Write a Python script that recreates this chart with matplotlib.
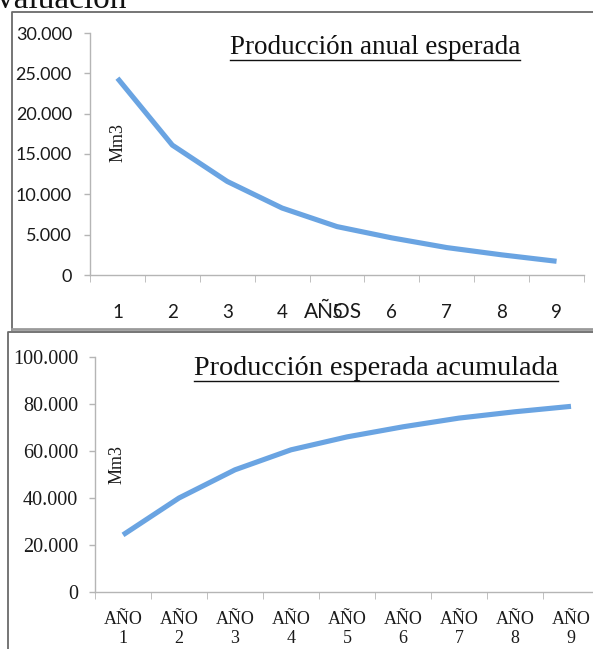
import matplotlib
matplotlib.use("Agg")
import matplotlib.pyplot as plt
from matplotlib.lines import Line2D

# Data: expected gas production per year (Mm3)
years = [1, 2, 3, 4, 5, 6, 7, 8, 9]
annual_production = [24400, 16100, 11600, 8300, 6000, 4600, 3400, 2500, 1700]
cumulative_production = [24300, 40000, 52000, 60500, 66000, 70300, 74000, 76700, 79000]

top_yticks = [0, 5000, 10000, 15000, 20000, 25000, 30000]
top_yticklabels = ["0", "5.000", "10.000", "15.000", "20.000", "25.000", "30.000"]
top_xticklabels = ["1", "2", "3", "4", "5", "6", "7", "8", "9"]
bottom_yticks = [0, 20000, 40000, 60000, 80000, 100000]
bottom_yticklabels = ["0", "20.000", "40.000", "60.000", "80.000", "100.000"]
bottom_xticklabels = [f"AÑO\n{y}" for y in years]

W, H = 593, 649
SERIF = "Liberation Serif"
SANS = "Lato"
LINE_COLOR = "#6aa4e2"
AXIS_COLOR = "#b5b5b5"
FRAME_COLOR = "#6a6a6a"
TEXT_COLOR = "#1a1a1a"

fig = plt.figure(figsize=(W / 100, H / 100), dpi=100)
fig.patch.set_facecolor("white")


def rect(x0, y0, x1, y1):
    """Axes rectangle from pixel edges (origin top-left)."""
    return [x0 / W, 1 - y1 / H, (x1 - x0) / W, (y1 - y0) / H]


def fig_line(xs, ys, **kw):
    fig.add_artist(Line2D([x / W for x in xs], [1 - y / H for y in ys],
                          transform=fig.transFigure, **kw))


def style_axes(ax):
    for side in ("top", "right"):
        ax.spines[side].set_visible(False)
    for side in ("left", "bottom"):
        ax.spines[side].set_color(AXIS_COLOR)
        ax.spines[side].set_linewidth(1.0)
    ax.tick_params(colors=AXIS_COLOR, length=4, width=1.0, labelcolor=TEXT_COLOR)
    ax.set_facecolor("none")


# Document heading, cut off at the top edge of the page
fig.text(-3 / W, 1 - 8 / H, "valuación", fontsize=24, family=SERIF,
         ha="left", va="baseline", color="#111111")

# Chart frames
fig_line([12, 12, 600], [330, 12, 12], color=FRAME_COLOR, lw=1.3)
fig_line([12, 600], [329, 329], color="#9a9a9a", lw=2.0)
fig_line([8, 8, 600], [660, 332, 332], color=FRAME_COLOR, lw=1.3)

# ---- Annual production ----
ax1 = fig.add_axes(rect(90, 33, 584, 275))
ax1.plot(years, annual_production, color=LINE_COLOR, lw=3.7, solid_capstyle="butt")
ax1.set_xlim(0.5, 9.5)
ax1.set_ylim(0, 30000)
ax1.set_yticks(top_yticks)
ax1.set_yticklabels(top_yticklabels, family=SANS, fontsize=13)
ax1.set_xticks(years)
ax1.set_xticklabels(top_xticklabels, family=SANS, fontsize=13.5)
ax1.set_xticks([x + 0.5 for x in [0] + years], minor=True)
style_axes(ax1)
ax1.tick_params(axis="x", which="major", length=0, pad=21)
ax1.tick_params(axis="x", which="minor", length=5, colors=AXIS_COLOR)
ax1.tick_params(axis="y", pad=9)
ax1.annotate("AÑOS", xy=(4.92, 0), xycoords="data", xytext=(0, -27),
             textcoords="offset points", ha="center", va="center",
             fontsize=15, family=SANS, color=TEXT_COLOR)
ax1.text((118 - 90) / 494, (275 - 142) / 242, "Mm3", transform=ax1.transAxes,
         rotation=90, fontsize=13, family=SERIF, ha="center", va="center",
         color=TEXT_COLOR)
t1 = ax1.text(375 / W, 1 - 54 / H, "Producción anual esperada", transform=fig.transFigure,
              fontsize=19.5, family=SERIF, ha="center", va="baseline", color="#111111")

# ---- Cumulative production ----
ax2 = fig.add_axes(rect(95, 357, 599, 592))
ax2.plot(years, cumulative_production, color=LINE_COLOR, lw=3.7, solid_capstyle="butt")
ax2.set_xlim(0.5, 9.5)
ax2.set_ylim(0, 100000)
ax2.set_yticks(bottom_yticks)
ax2.set_yticklabels(bottom_yticklabels, family=SERIF, fontsize=14.5)
ax2.set_xticks(years)
ax2.set_xticklabels(bottom_xticklabels, family=SERIF, fontsize=13, linespacing=1.12)
ax2.set_xticks([x + 0.5 for x in [0] + years], minor=True)
style_axes(ax2)
ax2.tick_params(axis="x", which="major", length=0, pad=14)
ax2.tick_params(axis="x", which="minor", length=5, colors=AXIS_COLOR)
ax2.tick_params(axis="y", pad=8)
ax2.text((117 - 95) / 504, (592 - 464) / 235, "Mm3", transform=ax2.transAxes,
         rotation=90, fontsize=13, family=SERIF, ha="center", va="center",
         color=TEXT_COLOR)
t2 = ax2.text(376 / W, 1 - 375 / H, "Producción esperada acumulada", transform=fig.transFigure,
              fontsize=20.3, family=SERIF, ha="center", va="baseline", color="#111111")

# Underline the chart titles
fig.canvas.draw()
renderer = fig.canvas.get_renderer()
for t, y_px in ((t1, 60), (t2, 381)):
    bb = t.get_window_extent(renderer)
    fig_line([bb.x0, bb.x1], [y_px, y_px], color="#111111", lw=1.0)

fig.savefig("out.png", dpi=100, facecolor="white")
